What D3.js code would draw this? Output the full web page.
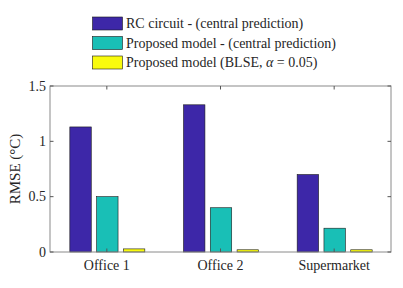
<!DOCTYPE html>
<html>
<head>
<meta charset="utf-8">
<script src="https://cdn.jsdelivr.net/npm/d3@7"></script>
<style>
  body { margin: 0; background: #fff; }
</style>
</head>
<body>
<div id="plotholder"></div>
<script>
const CATEGORIES = ['Office 1', 'Office 2', 'Supermarket']
const SERIES = [
  'RC circuit - (central prediction)',
  'Proposed model - (central prediction)',
  'Proposed model (BLSE, α = 0.05)',
]
const RC_VALUES = [1.13, 1.33, 0.70]
const PROPOSED_VALUES = [0.50, 0.40, 0.215]
const BLSE_VALUES = [0.028, 0.02, 0.02]
const Y_TICKS = [0, 0.5, 1, 1.5]
const COLORS = ['#3d27a8', '#19bfb6', '#f9fb0e']

const width = 403, height = 288
const margin = { left: 50, right: 12, top: 86, bottom: 36 }
const FONT = 'Liberation Serif, Times New Roman, Times, serif'

const svg = d3.select('#plotholder').append('svg')
  .attr('width', width)
  .attr('height', height)
  .attr('font-family', FONT)

const x = d3.scaleBand()
  .domain(CATEGORIES)
  .range([margin.left, width - margin.right])

const y = d3.scaleLinear()
  .domain([0, 1.5])
  .range([height - margin.bottom, margin.top])

const sub = d3.scaleBand()
  .domain(d3.range(SERIES.length))
  .range([-37.5, 37.5])
  .paddingInner(0.2)

const table = [RC_VALUES, PROPOSED_VALUES, BLSE_VALUES]

// bars
table.forEach((vals, s) => {
  svg.append('g').selectAll('rect')
    .data(vals)
    .enter()
    .append('rect')
    .attr('x', (d, i) => x(CATEGORIES[i]) + x.bandwidth() / 2 + sub(s) + 0.5)
    .attr('y', d => y(d))
    .attr('width', sub.bandwidth())
    .attr('height', d => y(0) - y(d))
    .attr('fill', COLORS[s])
    .attr('stroke', '#1a1a1a')
    .attr('stroke-width', 0.6)
})

// axes box
const x0 = margin.left, x1 = width - margin.right
const y0 = y(0), y1 = y(1.5)
svg.append('rect')
  .attr('x', x0).attr('y', y1)
  .attr('width', x1 - x0).attr('height', y0 - y1)
  .attr('fill', 'none')
  .attr('stroke', '#8a8a8a')
  .attr('stroke-width', 1)

const tickLen = 3.5
const tickColor = '#555'
// y ticks on both sides
Y_TICKS.forEach(t => {
  svg.append('line').attr('x1', x0).attr('x2', x0 + tickLen)
    .attr('y1', y(t)).attr('y2', y(t)).attr('stroke', tickColor)
  svg.append('line').attr('x1', x1).attr('x2', x1 - tickLen)
    .attr('y1', y(t)).attr('y2', y(t)).attr('stroke', tickColor)
  svg.append('text')
    .attr('x', x0 - 4).attr('y', y(t) + 4.5)
    .attr('text-anchor', 'end')
    .attr('font-size', 14)
    .attr('fill', '#262626')
    .text(t)
})

// x ticks top and bottom
CATEGORIES.forEach(c => {
  const cx = x(c) + x.bandwidth() / 2
  svg.append('line').attr('x1', cx).attr('x2', cx)
    .attr('y1', y0).attr('y2', y0 - tickLen).attr('stroke', tickColor)
  svg.append('line').attr('x1', cx).attr('x2', cx)
    .attr('y1', y1).attr('y2', y1 + tickLen).attr('stroke', tickColor)
  svg.append('text')
    .attr('x', cx).attr('y', y0 + 18)
    .attr('text-anchor', 'middle')
    .attr('font-size', 14)
    .attr('fill', '#262626')
    .text(c)
})

svg.append('text')
  .attr('transform', `translate(20,${(y0 + y1) / 2}) rotate(-90)`)
  .attr('text-anchor', 'middle')
  .attr('font-size', 15)
  .attr('fill', '#262626')
  .text('RMSE (°C)')

// legend
const legend = svg.append('g')
SERIES.forEach((name, i) => {
  const ly = 17 + i * 19.5
  legend.append('rect')
    .attr('x', 92.5).attr('y', ly)
    .attr('width', 30).attr('height', 13)
    .attr('fill', COLORS[i])
    .attr('stroke', '#1a1a1a')
    .attr('stroke-width', 0.6)
  const t = legend.append('text')
    .attr('x', 126).attr('y', ly + 11)
    .attr('font-size', 14)
    .attr('fill', '#262626')
  if (name.includes('α')) {
    const [a, b] = name.split('α')
    t.append('tspan').text(a)
    t.append('tspan').attr('font-style', 'italic').text('α')
    t.append('tspan').text(b)
  } else {
    t.text(name)
  }
})
</script>
</body>
</html>
